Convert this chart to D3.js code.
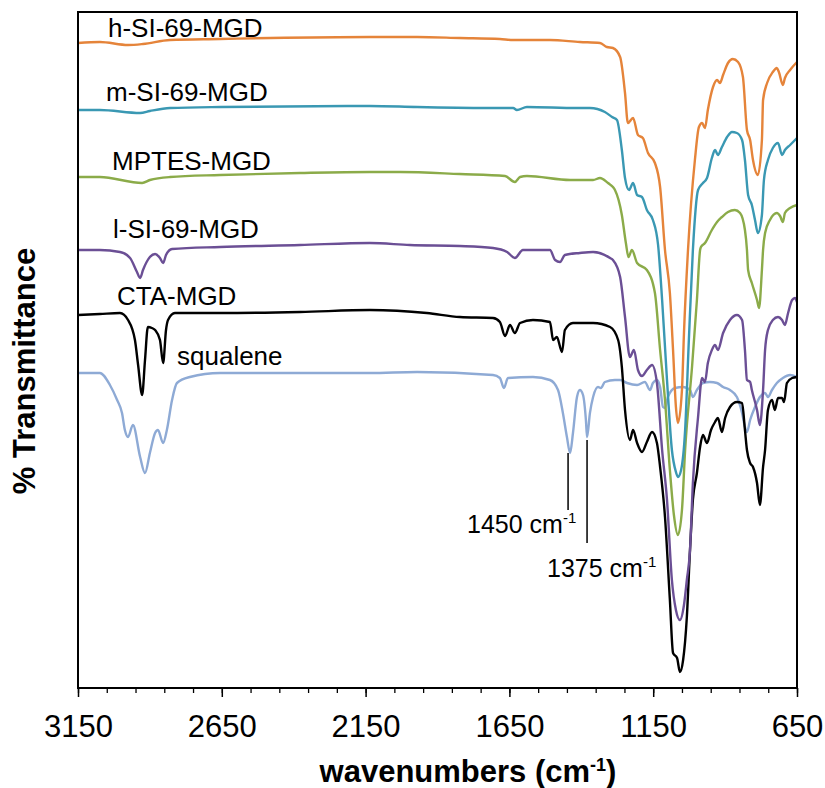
<!DOCTYPE html>
<html>
<head>
<meta charset="utf-8">
<script src="https://cdnjs.cloudflare.com/ajax/libs/d3/7.8.5/d3.min.js"></script>
<style>
  body { margin: 0; background: #fff; }
  text { font-family: "Liberation Sans", Arial, sans-serif; }
</style>
</head>
<body>
<div id="chart"></div>
<script>
/* spectra: [wavenumber (cm-1), offset transmittance (a.u.)] */
var hSI69 = [[3150,129],[3074,129.2],[2976,128.6],[2924,128.8],[2830,129.6],[2656,129.8],[2482,130],[2135,130.2],[1971,130.2],[1822,130],[1683,129.8],[1637,129.6],[1509,129.6],[1405,129.2],[1335,129],[1311,128.2],[1290,128],[1265,126.2],[1248,119],[1238,113],[1220,114],[1203,110.6],[1186,110],[1168,107],[1144,105],[1126,100.2],[1109,87.6],[1092,79],[1081,67.6],[1071,56.2],[1064,53],[1050,59.6],[1043,71],[1029,87.6],[1005,105.6],[991,112.2],[980,113],[970,112],[960,115.6],[942,120.2],[928,121.6],[918,121],[907,122.6],[890,125],[873,125.8],[855,125.2],[838,122.2],[824,111.6],[813,109.6],[803,105.6],[786,102.6],[772,109.6],[768,117.6],[754,121],[734,123.2],[720,124],[713,123.2],[699,120.6],[692,122],[674,123.6],[650,125.2]];

var mSI69 = [[3150,115.6],[3074,115.6],[2934,115],[2900,115.4],[2830,116],[2656,116.2],[2135,116.4],[1971,116.2],[1707,116],[1637,116],[1624,115.6],[1589,116.2],[1415,116],[1370,116],[1318,115.2],[1293,114.2],[1276,113.6],[1259,107.6],[1248,102],[1234,99.6],[1220,101],[1206,98.6],[1189,98.2],[1172,95.6],[1151,93.6],[1133,88.6],[1119,77.6],[1102,61.6],[1085,47.6],[1071,43.2],[1064,42.2],[1053,43.6],[1039,51.6],[1026,69.6],[1012,87.6],[994,99.6],[977,101],[963,102],[946,106],[935,107.6],[925,106.6],[911,108.2],[893,110.2],[876,111.2],[859,111],[841,109.6],[831,105.6],[820,98.6],[807,96.6],[796,93.6],[786,91],[772,94.6],[765,101.6],[751,105.6],[734,108],[716,109],[702,106.6],[692,107.6],[674,108.6],[650,110]];

var mptes = [[3150,102.2],[3074,102.2],[2927,101],[2900,101.6],[2830,102.2],[2656,102.6],[2378,103],[2135,103.2],[2030,103.2],[1822,102.8],[1665,102.4],[1631,101.2],[1613,102.2],[1589,102.4],[1439,101.6],[1359,101.6],[1335,102],[1307,101],[1290,100.2],[1283,99.6],[1259,94.6],[1245,89],[1236,86.2],[1224,87.6],[1206,85],[1172,83.6],[1144,79],[1126,67.6],[1109,57.6],[1092,43.6],[1078,34.6],[1064,30.6],[1050,35.6],[1039,47.6],[1015,64.2],[998,77.6],[987,87.6],[984,88.2],[970,89],[946,91.6],[928,93.2],[911,94.2],[890,95.2],[866,95.6],[848,95],[831,91.6],[824,87.6],[820,83.6],[807,81],[789,77.6],[782,76],[772,83.6],[768,87.6],[761,91],[744,93.6],[720,95],[709,94.4],[699,93.2],[692,95],[674,96],[650,96.6]];

var lSI69 = [[3150,87.6],[3074,87.6],[3004,87.2],[2969,86],[2945,83.2],[2934,82],[2924,83.6],[2900,86.2],[2882,86.8],[2865,86],[2854,85],[2844,86.6],[2823,87.8],[2656,88.2],[2378,88.6],[2135,89],[1996,88.6],[1822,88.4],[1707,88],[1658,87.2],[1631,86],[1603,87.6],[1509,87.6],[1491,85.6],[1474,85.2],[1457,86.6],[1405,87],[1359,87.2],[1300,86],[1290,85.6],[1265,82.2],[1248,74.2],[1231,66.2],[1217,67.6],[1203,63.6],[1189,62.4],[1172,63.6],[1154,64.6],[1137,61],[1119,47.6],[1102,37.6],[1085,21.6],[1071,15.6],[1057,13.6],[1043,16.6],[1033,21.6],[1022,27.6],[1012,41],[994,54.2],[980,62],[970,61.2],[960,65],[946,67.6],[935,68.6],[925,67.6],[907,71],[883,73.6],[859,74.6],[841,73.6],[831,67.6],[824,61.6],[813,61.2],[807,59.6],[789,55.6],[779,52.6],[768,59.6],[761,67.6],[751,71.6],[734,73.6],[716,74.2],[702,73.6],[692,72.6],[681,75],[667,77.6],[657,78],[650,77.2]];

var ctaMGD = [[3150,74.6],[3074,74.8],[3004,75],[2976,73.6],[2952,69.6],[2941,64.6],[2927,58.6],[2917,65.6],[2907,72.2],[2893,72],[2882,71.6],[2865,69.6],[2854,65],[2844,71.6],[2837,73.6],[2813,75],[2656,75],[2378,75.2],[2135,75.6],[1937,75],[1822,74.2],[1707,74],[1683,73.2],[1665,70.4],[1648,72.6],[1631,71],[1613,73],[1568,73.6],[1509,73.2],[1498,69.6],[1485,70.2],[1467,67.2],[1457,71.6],[1429,73],[1359,73],[1300,72.2],[1272,69.6],[1259,64.2],[1248,55.6],[1231,49.6],[1220,51.6],[1206,49],[1189,47.2],[1172,49.2],[1154,51.2],[1137,49],[1126,44.2],[1109,34.2],[1092,17.6],[1081,7],[1067,6],[1057,3.2],[1046,5.6],[1033,14.2],[1022,27.6],[1012,37.6],[998,43],[987,48.2],[977,50.6],[963,49],[949,51.6],[935,53.2],[925,54],[911,51.2],[900,54],[883,56.2],[859,57.2],[841,57],[831,51.6],[824,47.6],[813,45],[803,44.2],[789,41],[779,36.6],[768,44.2],[761,47.6],[751,55.6],[737,57.6],[727,55.6],[716,58],[702,58],[695,57.2],[685,61],[667,62],[650,62.2]];

var squalene = [[3150,63],[3074,63],[3039,60.6],[3014,57.6],[2997,55],[2987,51.6],[2976,50.2],[2959,52.6],[2934,46.2],[2917,43],[2900,47],[2882,51],[2872,51.6],[2854,49],[2841,51.6],[2823,57.6],[2806,61],[2761,62.2],[2656,63],[2378,63],[2135,63],[1971,63.2],[1707,62.6],[1683,62],[1669,60],[1655,62],[1568,62.2],[1509,61.6],[1481,59.6],[1464,55],[1450,50.2],[1439,47],[1429,51],[1415,58.2],[1405,59.6],[1394,58.6],[1384,53.6],[1380,50.2],[1370,55],[1359,58.2],[1342,60.2],[1332,60],[1318,61.2],[1283,61.6],[1265,61.6],[1241,61],[1206,60.6],[1179,61.2],[1161,59.6],[1151,61],[1137,61.6],[1126,60.2],[1116,56.2],[1109,56],[1099,58.2],[1074,60],[1046,60.2],[1022,59.6],[1012,58.2],[998,59.6],[977,61],[953,61.2],[928,61],[907,60.2],[883,59.6],[859,58.2],[841,55],[831,52.2],[824,51.2],[813,53.6],[796,56.2],[779,58.2],[761,59],[751,58.2],[737,59.6],[720,61],[699,62],[674,62.6],[650,62.2]];

var seriesNames = ["squalene", "CTA-MGD", "l-SI-69-MGD", "MPTES-MGD", "m-SI-69-MGD", "h-SI-69-MGD"];
var seriesData = [squalene, ctaMGD, lSI69, mptes, mSI69, hSI69];
var seriesColors = ["#8eaad5", "#000000", "#6b4f95", "#8bab49", "#3a98b3", "#e5843a"];

/* squalene band markers */
var bandPos = [1446, 1380];
var bandLabels = ["1450", "1375"];
var bandTop = [47, 49.6];
var bandBottom = [35.6, 29];

var xTicks = [3150, 2650, 2150, 1650, 1150, 650];

var width = 825, height = 788;
var margin = {left: 78, right: 28, top: 12, bottom: 100};

var x = d3.scaleLinear().domain([3150, 650]).range([margin.left, width - margin.right]);
var y = d3.scaleLinear().domain([0, 135.2]).range([height - margin.bottom, margin.top]);

var svg = d3.select("#chart").append("svg")
    .attr("width", width)
    .attr("height", height);

svg.append("rect").attr("width", width).attr("height", height).attr("fill", "#fff");

/* spectra */
var line = d3.line()
    .x(function(d) { return x(d[0]); })
    .y(function(d) { return y(d[1]); })
    .curve(d3.curveMonotoneX);

svg.selectAll(".spec").data(seriesData)
    .enter().append("path")
    .attr("class", "spec")
    .attr("fill", "none")
    .attr("stroke", function(d, i) { return seriesColors[i]; })
    .attr("stroke-width", 2.4)
    .attr("stroke-linejoin", "round")
    .attr("d", line);

/* frame */
svg.append("rect")
    .attr("x", x(3150)).attr("y", y(135.2))
    .attr("width", x(650) - x(3150)).attr("height", y(0) - y(135.2))
    .attr("fill", "none").attr("stroke", "#000").attr("stroke-width", 2);

/* minor ticks */
var minorAxis = d3.axisBottom(x).tickValues(d3.range(650, 3151, 100)).tickSize(5).tickFormat("");
var gMinor = svg.append("g").attr("transform", "translate(0," + y(0) + ")").call(minorAxis);
gMinor.select(".domain").remove();
gMinor.selectAll("line").attr("stroke-width", 1.3);

/* major ticks + labels */
var xAxis = d3.axisBottom(x).tickValues(xTicks).tickSize(9).tickPadding(18).tickFormat(d3.format("d"));
var gx = svg.append("g").attr("transform", "translate(0," + y(0) + ")").call(xAxis);
gx.select(".domain").remove();
gx.selectAll("line").attr("stroke-width", 1.5);
gx.selectAll("text").attr("font-size", 31).attr("font-family", "Liberation Sans, Arial, sans-serif").attr("fill", "#000");

/* series labels */
var labelPos = [[177, 365], [117, 305], [113, 238], [112, 170], [106, 101], [108, 37]];
svg.selectAll(".slabel").data(seriesNames)
    .enter().append("text")
    .attr("class", "slabel")
    .attr("x", function(d, i) { return labelPos[i][0]; })
    .attr("y", function(d, i) { return labelPos[i][1]; })
    .attr("font-size", 26)
    .attr("fill", "#000")
    .text(function(d) { return d; });

/* band markers */
svg.selectAll(".band").data(bandPos)
    .enter().append("line")
    .attr("class", "band")
    .attr("x1", function(d) { return x(d); })
    .attr("x2", function(d) { return x(d); })
    .attr("y1", function(d, i) { return y(bandTop[i]); })
    .attr("y2", function(d, i) { return y(bandBottom[i]); })
    .attr("stroke", "#000").attr("stroke-width", 1.5);

var bandOffset = [[-101, 23], [-40, 34]];
bandPos.forEach(function(d, i) {
    var t = svg.append("text")
        .attr("x", x(d) + bandOffset[i][0])
        .attr("y", y(bandBottom[i]) + bandOffset[i][1])
        .attr("font-size", 25);
    t.append("tspan").text(bandLabels[i] + " cm");
    t.append("tspan").attr("font-size", 15).attr("dy", -10).text("-1");
});

/* axis titles */
var xt = svg.append("text")
    .attr("x", 468).attr("y", 782)
    .attr("text-anchor", "middle")
    .attr("font-size", 31).attr("font-weight", "bold");
xt.append("tspan").text("wavenumbers (cm");
xt.append("tspan").attr("font-size", 18).attr("dy", -11).text("-1");
xt.append("tspan").attr("dy", 11).text(")");

svg.append("text")
    .attr("transform", "translate(35," + 371 + ")rotate(-90)")
    .attr("text-anchor", "middle")
    .attr("font-size", 31).attr("font-weight", "bold")
    .text("% Transmittance");
</script>
</body>
</html>
